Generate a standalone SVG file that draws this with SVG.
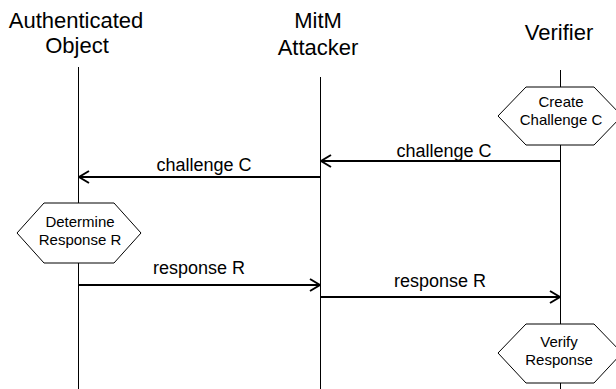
<svg xmlns="http://www.w3.org/2000/svg" width="616" height="389" viewBox="0 0 616 389">
  <style>
    text { font-family: "Liberation Sans", Arial, sans-serif; fill: #000; text-anchor: middle; }
    .head { font-size: 22px; }
    .msg { font-size: 18px; }
    .act { font-size: 15px; }
    .life { stroke: #000; stroke-width: 1; fill: none; }
    .hex { stroke: #000; stroke-width: 1; fill: #fff; }
    .arrow { stroke: #000; stroke-width: 2; fill: none; }
  </style>
  <defs>
    <marker id="open" viewBox="0 0 12 14" refX="11" refY="7" markerWidth="12" markerHeight="14" markerUnits="userSpaceOnUse" orient="auto">
      <path d="M1,1 L11,7 L1,13" fill="none" stroke="#000" stroke-width="2"/>
    </marker>
  </defs>
  <rect width="616" height="389" fill="#fff"/>

  <!-- participants with their lifelines -->
  <g id="authenticated-object">
    <text class="head" x="76" y="28">Authenticated</text>
    <text class="head" x="77" y="53">Object</text>
    <line class="life" x1="78.5" y1="67" x2="78.5" y2="389"/>
  </g>
  <g id="mitm-attacker">
    <text class="head" x="318" y="28">MitM</text>
    <text class="head" x="318" y="55">Attacker</text>
    <line class="life" x1="320.5" y1="77" x2="320.5" y2="389"/>
  </g>
  <g id="verifier">
    <text class="head" x="559" y="40">Verifier</text>
    <line class="life" x1="560.5" y1="70" x2="560.5" y2="389"/>
  </g>

  <!-- activity hexagons -->
  <g id="create-challenge">
    <polygon class="hex" points="498,116 526,87 594,87 622,116 594,145 526,145"/>
    <text class="act" x="561" y="107">Create</text>
    <text class="act" x="561" y="125">Challenge C</text>
  </g>
  <g id="determine-response">
    <polygon class="hex" points="17,233 44,203 114,203 141,233 114,263 44,263"/>
    <text class="act" x="80" y="227">Determine</text>
    <text class="act" x="80" y="245">Response R</text>
  </g>
  <g id="verify-response">
    <polygon class="hex" points="498,353 526,324 594,324 622,353 594,383 526,383"/>
    <text class="act" x="559" y="347">Verify</text>
    <text class="act" x="559" y="365">Response</text>
  </g>

  <!-- messages -->
  <g id="connectors">
    <line class="arrow" x1="560" y1="161" x2="321" y2="161" marker-end="url(#open)"/>
    <text class="msg" x="444" y="157">challenge C</text>
    <line class="arrow" x1="320" y1="177" x2="79" y2="177" marker-end="url(#open)"/>
    <text class="msg" x="204" y="171">challenge C</text>
    <line class="arrow" x1="79" y1="285" x2="320" y2="285" marker-end="url(#open)"/>
    <text class="msg" x="199" y="274">response R</text>
    <line class="arrow" x1="320" y1="297" x2="560" y2="297" marker-end="url(#open)"/>
    <text class="msg" x="440" y="287">response R</text>
  </g>
</svg>
